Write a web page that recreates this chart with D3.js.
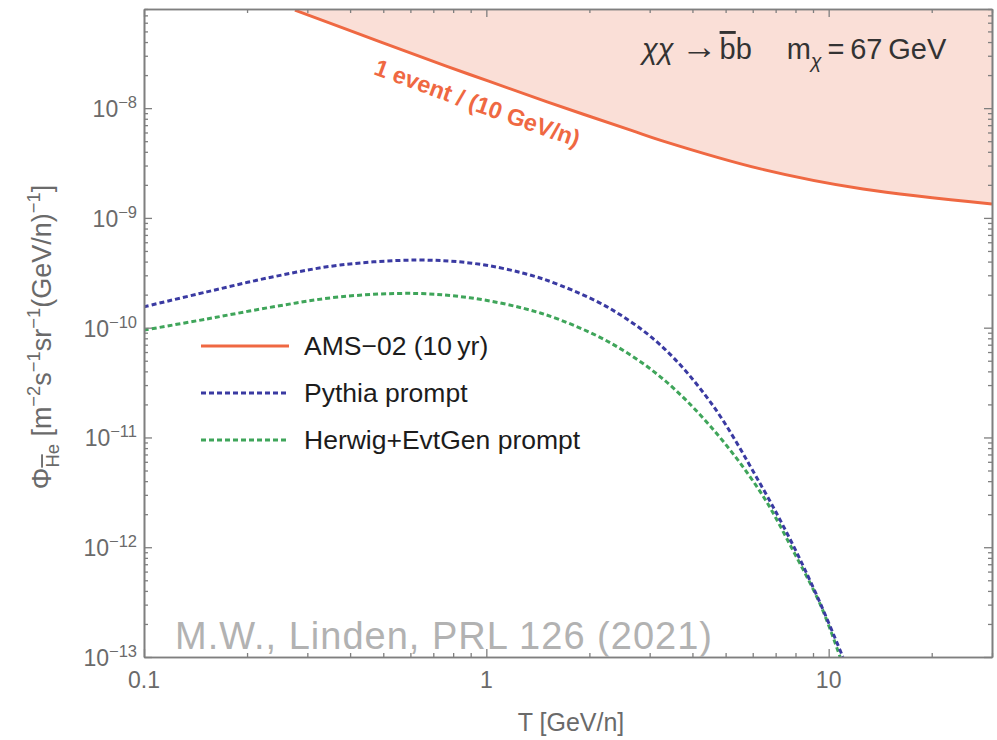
<!DOCTYPE html>
<html>
<head>
<meta charset="utf-8">
<script src="https://cdn.jsdelivr.net/npm/d3@7"></script>
<style>
  body { margin: 0; background: #ffffff; }
  svg { display: block; font-family: "Liberation Sans", Arial, Helvetica, sans-serif; }
</style>
</head>
<body>
<svg id="chart" width="997" height="740"></svg>
<script>
// AMS-02 sensitivity: flux giving 1 event per 10 GeV/n in 10 years
const amsT    = [0.276, 0.49, 0.767, 1.016, 1.505, 2.64, 3.25, 6.37, 12.6, 30];
const amsFlux = [7.8e-8, 4.02e-8, 2.40e-8, 1.76e-8, 1.14e-8, 6.3e-9, 5.06e-9, 2.78e-9, 1.83e-9, 1.34e-9];

// Antihelium flux from prompt coalescence, Pythia
const pythiaT    = [0.1, 0.1526, 0.2388, 0.374, 0.626, 0.918, 1.285, 1.64, 2.31, 3.23, 4.52, 6.33, 7.9, 9.48, 11.0];
const pythiaFlux = [1.55e-10, 2.12e-10, 2.91e-10, 3.72e-10, 4.13e-10, 3.85e-10, 3.13e-10, 2.44e-10, 1.48e-10, 6.92e-11, 2.09e-11, 3.72e-12, 1.02e-12, 3.02e-13, 1.0e-13];

// Antihelium flux from prompt coalescence, Herwig+EvtGen
const herwigT    = [0.1, 0.1526, 0.2388, 0.374, 0.626, 0.918, 1.285, 1.64, 2.31, 3.23, 4.52, 6.33, 7.9, 9.48, 10.8];
const herwigFlux = [9.5e-11, 1.2e-10, 1.55e-10, 1.91e-10, 2.05e-10, 1.85e-10, 1.5e-10, 1.18e-10, 7.24e-11, 3.55e-11, 1.26e-11, 3.16e-12, 9.12e-13, 2.95e-13, 1.0e-13];

const xTickValues = [0.1, 1, 10];
const xTickLabels = ["0.1", "1", "10"];
const yTickExponents = [-13, -12, -11, -10, -9, -8];
const legendLabels = ["AMS\u221202 (10\u2009yr)", "Pythia prompt", "Herwig+EvtGen prompt"];

const colors = {
  ams: "#ef6842",
  amsFill: "#fadfd7",
  pythia: "#3a3aa2",
  herwig: "#3fa55a",
  frame: "#7f7f7f",
  tickText: "#6a6a6a",
  text: "#1c1c1c"
};

const svg = d3.select("#chart");
const plot = { left: 144, right: 992, top: 9, bottom: 657 };

const x = d3.scaleLog().domain([0.1, 30]).range([plot.left, plot.right]);
const y = d3.scaleLog().domain([1e-13, 8e-8]).range([plot.bottom, plot.top]);

const defs = svg.append("defs");
defs.append("clipPath").attr("id", "plotClip")
  .append("rect")
  .attr("x", plot.left).attr("y", plot.top)
  .attr("width", plot.right - plot.left).attr("height", plot.bottom - plot.top);

const toPoints = (T, F) => T.map((t, i) => [x(t), y(F[i])]);
const amsPts = toPoints(amsT, amsFlux);
const pythiaPts = toPoints(pythiaT, pythiaFlux);
const herwigPts = toPoints(herwigT, herwigFlux);

const smooth = d3.curveCatmullRom.alpha(0.5);
const line = d3.line().curve(smooth);
const area = d3.area()
  .x(d => d[0]).y0(plot.top).y1(d => d[1])
  .curve(smooth);

const plotG = svg.append("g").attr("clip-path", "url(#plotClip)");

// excluded region above the sensitivity curve
plotG.append("path").attr("d", area(amsPts)).attr("fill", colors.amsFill);
plotG.append("path").attr("d", line(amsPts))
  .attr("fill", "none").attr("stroke", colors.ams).attr("stroke-width", 3);

plotG.append("path").attr("d", line(herwigPts))
  .attr("fill", "none").attr("stroke", colors.herwig)
  .attr("stroke-width", 3).attr("stroke-dasharray", "5,3");
plotG.append("path").attr("d", line(pythiaPts))
  .attr("fill", "none").attr("stroke", colors.pythia)
  .attr("stroke-width", 3).attr("stroke-dasharray", "5,3");

// label running along the sensitivity curve
const guideLine = d3.line().curve(smooth).x(d => d[0]).y(d => d[1] + 35);
const guide = svg.append("path").attr("id", "amsGuide")
  .attr("d", guideLine(amsPts)).attr("fill", "none").attr("stroke", "none");
const labelStartX = x(0.465);
const gNode = guide.node();
let lo = 0, hi = gNode.getTotalLength();
for (let k = 0; k < 40; k++) {
  const mid = (lo + hi) / 2;
  if (gNode.getPointAtLength(mid).x < labelStartX) lo = mid; else hi = mid;
}
svg.append("text")
  .attr("font-size", 23.5).attr("font-weight", "bold")
  .attr("fill", colors.ams)
  .append("textPath").attr("href", "#amsGuide").attr("startOffset", lo)
  .text("1 event / (10 GeV/n)");

// frame with inward ticks on all four sides
const majorX = xTickValues;
const minorX = x.ticks().filter(v => !majorX.includes(v));
const majorY = yTickExponents.map(e => Math.pow(10, e));
const minorY = y.ticks().filter(v => !majorY.some(m => Math.abs(m - v) / m < 1e-6));

function frameSide(axisFn, scale, values, size, transform) {
  svg.append("g")
    .attr("transform", transform)
    .call(axisFn(scale).tickValues(values).tickSize(-size).tickSizeOuter(0).tickFormat(""))
    .call(g => g.selectAll(".tick line").attr("stroke", colors.frame).attr("stroke-width", 1.3))
    .call(g => g.select(".domain").attr("stroke", colors.frame).attr("stroke-width", 1.6));
}
[[majorX, 8], [minorX, 4]].forEach(([vals, sz]) => {
  frameSide(d3.axisBottom, x, vals, sz, `translate(0,${plot.bottom})`);
  frameSide(d3.axisTop, x, vals, sz, `translate(0,${plot.top})`);
});
[[majorY, 8], [minorY, 4]].forEach(([vals, sz]) => {
  frameSide(d3.axisLeft, y, vals, sz, `translate(${plot.left},0)`);
  frameSide(d3.axisRight, y, vals, sz, `translate(${plot.right},0)`);
});

// tick labels
svg.append("g").selectAll("text").data(xTickValues).join("text")
  .attr("x", d => x(d)).attr("y", plot.bottom + 31)
  .attr("text-anchor", "middle").attr("font-size", 23)
  .attr("fill", colors.tickText)
  .text((d, i) => xTickLabels[i]);

const yLab = svg.append("g").selectAll("text").data(yTickExponents).join("text")
  .attr("x", plot.left - 7).attr("y", d => y(Math.pow(10, d)) + 9)
  .attr("text-anchor", "end").attr("font-size", 23)
  .attr("fill", colors.tickText);
yLab.append("tspan").text("10");
yLab.append("tspan").attr("font-size", 16.5).attr("dy", -9).text(d => "\u2212" + Math.abs(d));

// rich text helper: parts with superscript / subscript offsets
function rich(sel, parts, size) {
  let shift = 0;
  parts.forEach(p => {
    const target = p.sup ? -0.42 * size : p.sub ? 0.3 * size : 0;
    const ts = sel.append("tspan").text(p.t).attr("dy", target - shift);
    shift = target;
    if (p.sup || p.sub) ts.attr("font-size", size * 0.68);
    if (p.scale) ts.attr("font-size", size * p.scale);
    if (p.italic) ts.attr("font-style", "italic");
    if (p.over) ts.style("text-decoration", "overline");
  });
}

// axis titles
svg.append("text")
  .attr("x", 571).attr("y", 731)
  .attr("text-anchor", "middle").attr("font-size", 25)
  .attr("fill", colors.tickText)
  .text("T [GeV/n]");

const yTitle = svg.append("text")
  .attr("transform", "translate(51,337) rotate(-90)")
  .attr("text-anchor", "middle").attr("font-size", 27)
  .attr("fill", colors.tickText);
rich(yTitle, [
  { t: "\u03A6" },
  { t: "H", sub: true, over: true },
  { t: "e", sub: true },
  { t: " [m" },
  { t: "\u22122", sup: true },
  { t: "s" },
  { t: "\u22121", sup: true },
  { t: "sr" },
  { t: "\u22121", sup: true },
  { t: "(GeV/n)" },
  { t: "\u22121", sup: true },
  { t: "]" }
], 27);

// process annotation
const note = svg.append("text")
  .attr("x", 642).attr("y", 59)
  .attr("font-size", 29).attr("fill", "#333333");
rich(note, [
  { t: "\u03C7\u03C7", italic: true },
  { t: "\u2009\u2192", scale: 1.25 },
  { t: "\u200A" },
  { t: "b", over: true },
  { t: "b\u2003\u2009m" },
  { t: "\u03C7", sub: true, italic: true },
  { t: "\u2009=\u200967\u2009GeV" }
], 29);

// legend
const legendRows = [
  { color: colors.ams, dash: null },
  { color: colors.pythia, dash: "5,3" },
  { color: colors.herwig, dash: "5,3" }
];
const legendY = [346, 393, 440];
const legend = svg.append("g");
legendRows.forEach((r, i) => {
  legend.append("line")
    .attr("x1", 201).attr("x2", 289)
    .attr("y1", legendY[i]).attr("y2", legendY[i])
    .attr("stroke", r.color).attr("stroke-width", 3)
    .attr("stroke-dasharray", r.dash);
  legend.append("text")
    .attr("x", 304).attr("y", legendY[i] + 9)
    .attr("font-size", 26.5).attr("fill", colors.text)
    .text(legendLabels[i]);
});

// citation
svg.append("text")
  .attr("x", 175).attr("y", 649)
  .attr("font-size", 38).attr("fill", "#b2b2b2")
  .attr("textLength", 537).attr("lengthAdjust", "spacing")
  .text("M.W., Linden, PRL 126 (2021)");
</script>
</body>
</html>
